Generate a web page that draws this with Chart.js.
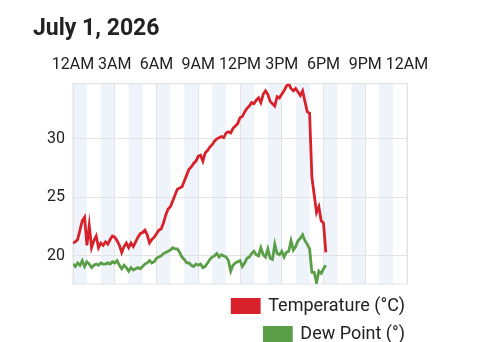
<!DOCTYPE html>
<html>
<head>
<meta charset="utf-8">
<script src="https://cdn.jsdelivr.net/npm/chart.js@4/dist/chart.umd.min.js"></script>
<style>
  html, body { margin: 0; padding: 0; background: #fff; }
</style>
</head>
<body>
<canvas id="weatherChart" width="480" height="342"></canvas>
<script>
// minutes since midnight
const times = [
  0, 10, 20, 30, 40, 50, 60, 70, 80, 90,
  100, 110, 120, 130, 140, 150, 160, 170, 180, 190,
  200, 210, 220, 230, 240, 250, 260, 270, 280, 290,
  300, 310, 320, 330, 340, 350, 360, 370, 380, 390,
  400, 410, 420, 430, 440, 450, 460, 470, 480, 490,
  500, 510, 520, 530, 540, 550, 560, 570, 580, 590,
  600, 610, 620, 630, 640, 650, 660, 670, 680, 690,
  700, 710, 720, 730, 740, 750, 760, 770, 780, 790,
  800, 810, 820, 830, 840, 850, 860, 870, 880, 890,
  900, 910, 920, 930, 940, 950, 960, 970, 980, 990,
  1000, 1010, 1020, 1030, 1040, 1050, 1060, 1070, 1080, 1090
];
const temperature = [
  21.1, 21.2, 21.4, 22.2, 23.0, 23.3, 20.9, 22.6, 20.7, 21.3,
  21.7, 20.7, 21.1, 20.9, 21.2, 21.0, 21.4, 21.7, 21.6, 21.3,
  20.9, 20.3, 20.8, 21.1, 20.7, 21.1, 20.8, 21.2, 21.6, 21.9,
  22.0, 22.2, 21.8, 21.1, 21.4, 21.6, 21.9, 22.2, 22.3, 22.8,
  23.5, 24.0, 24.2, 24.7, 25.2, 25.7, 25.8, 25.9, 26.4, 26.9,
  27.4, 27.6, 27.9, 28.1, 28.5, 28.6, 28.1, 28.8, 29.0, 29.3,
  29.5, 29.8, 30.0, 30.1, 30.2, 30.1, 30.5, 30.6, 30.5, 30.9,
  31.1, 31.3, 31.8, 31.9, 32.3, 32.6, 32.8, 33.1, 33.0, 33.3,
  33.5, 33.1, 33.8, 34.1, 33.8, 33.2, 33.0, 32.8, 33.6, 33.5,
  33.8, 34.1, 34.5, 34.7, 34.3, 34.1, 34.3, 34.0, 33.7, 34.1,
  33.2, 32.3, 32.2, 26.7, 25.2, 23.7, 24.2, 23.0, 22.8, 20.3
];
const dewPoint = [
  19.3, 19.1, 19.4, 19.2, 19.6, 19.1, 19.5, 19.3, 19.0, 19.2,
  19.3, 19.2, 19.4, 19.3, 19.3, 19.4, 19.3, 19.5, 19.4, 19.6,
  19.2, 18.9, 19.2, 19.0, 18.7, 19.0, 18.8, 18.9, 19.0, 18.9,
  19.1, 19.3, 19.4, 19.6, 19.4, 19.5, 19.8, 19.9, 20.0, 20.2,
  20.3, 20.4, 20.5, 20.7, 20.6, 20.6, 20.3, 19.9, 19.7, 19.4,
  19.4, 19.2, 19.1, 19.3, 19.2, 19.3, 19.0, 19.1, 19.4, 19.7,
  19.9, 20.0, 20.2, 19.9, 20.1, 20.0, 19.9, 19.6, 18.7, 19.2,
  19.4, 19.5, 19.6, 19.1, 19.4, 19.8, 19.9, 20.2, 20.4, 20.1,
  20.0, 20.7, 20.1, 19.9, 20.6, 19.8, 19.7, 21.0, 20.2, 20.1,
  20.4, 19.9, 20.3, 20.4, 21.3, 20.5, 20.8, 21.3, 21.5, 21.8,
  21.3, 21.0, 20.6, 18.6, 18.6, 17.7, 18.7, 18.5, 18.9, 19.2
];
const hourLabels = ["12AM", "3AM", "6AM", "9AM", "12PM", "3PM", "6PM", "9PM", "12AM"];

const FONT = "Roboto";
const TEXT = "#222";
const GRID = "#e3e3e3";

// light blue band on every even hour, plus the plot frame
const hourBands = {
  id: "hourBands",
  beforeDraw(chart) {
    const { ctx, chartArea: a, scales: { x } } = chart;
    ctx.save();
    ctx.fillStyle = "#eef4fa";
    for (let m = 0; m < 1440; m += 120) {
      const x0 = x.getPixelForValue(m);
      const x1 = x.getPixelForValue(m + 60);
      ctx.fillRect(x0, a.top, x1 - x0, a.bottom - a.top);
    }
    ctx.strokeStyle = GRID;
    ctx.lineWidth = 1;
    ctx.strokeRect(a.left, a.top, a.right - a.left, a.bottom - a.top);
    ctx.restore();
  }
};

// shift legend rows to sit right-aligned under the plot
const legendShift = {
  id: "legendShift",
  afterLayout(chart) {
    const lg = chart.legend;
    lg.left += 8; lg.right += 8;
    lg.top += 3; lg.bottom += 3;
  }
};

const ctx = document.getElementById("weatherChart").getContext("2d");
const chart = new Chart(ctx, {
  type: "line",
  data: {
    datasets: [
      {
        label: "Temperature (°C)",
        data: times.map((t, i) => ({ x: t, y: temperature[i] })),
        borderColor: "#d7222c",
        backgroundColor: "#d7222c",
        borderWidth: 2.8,
        pointRadius: 0,
        tension: 0,
      },
      {
        label: "Dew Point (°)",
        data: times.map((t, i) => ({ x: t, y: dewPoint[i] })),
        borderColor: "#5a9e48",
        backgroundColor: "#5a9e48",
        borderWidth: 2.8,
        pointRadius: 0,
        tension: 0,
      },
    ],
  },
  options: {
    responsive: false,
    animation: false,
    devicePixelRatio: 1,
    layout: { padding: { left: 33, right: 73, top: 0, bottom: -8 } },
    scales: {
      x: {
        type: "linear",
        position: "top",
        min: 0,
        max: 1440,
        grid: { color: GRID, drawTicks: false },
        border: { color: GRID },
        ticks: {
          stepSize: 180,
          autoSkip: false,
          maxRotation: 0,
          padding: 9,
          color: TEXT,
          font: { family: FONT, size: 16 },
          callback: (v) => hourLabels[v / 180],
        },
      },
      y: {
        min: 17.6,
        max: 34.7,
        afterFit: (s) => { s.width = 40; },
        grid: { color: GRID, drawTicks: false },
        border: { color: GRID },
        ticks: {
          stepSize: 5,
          includeBounds: false,
          padding: 8,
          color: TEXT,
          font: { family: FONT, size: 16 },
        },
      },
    },
    plugins: {
      title: {
        display: true,
        text: "July 1, 2026",
        align: "start",
        color: TEXT,
        font: { family: FONT, size: 23, weight: "bold" },
        padding: { top: 15, bottom: 4 },
      },
      legend: {
        position: "bottom",
        align: "end",
        fullSize: false,
        labels: {
          boxWidth: 27,
          boxHeight: 13,
          padding: 10,
          color: TEXT,
          font: { family: FONT, size: 18 },
        },
      },
      tooltip: { enabled: false },
    },
  },
  plugins: [hourBands, legendShift],
});
</script>
</body>
</html>
